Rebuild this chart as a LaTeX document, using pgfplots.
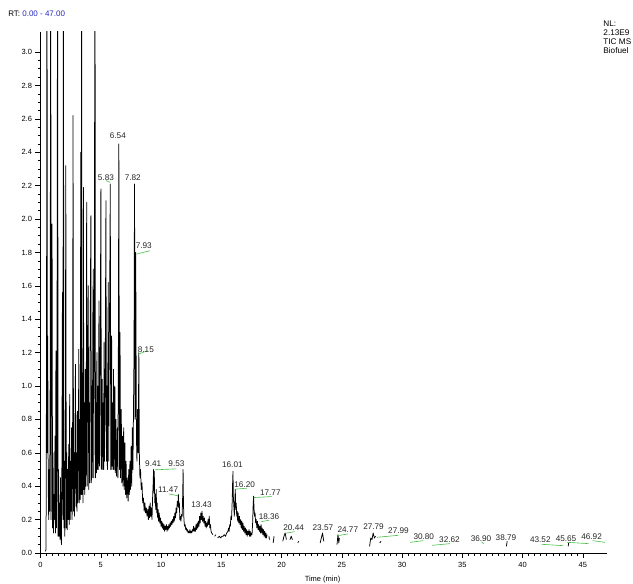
\documentclass[border=0pt]{standalone}
\usepackage{fontspec}
\setmainfont{Liberation Sans}
\usepackage{pgfplots}
\pgfplotsset{compat=1.18}
\definecolor{leadclr}{RGB}{70,190,70}
\definecolor{rtblue}{RGB}{40,40,190}

\begin{document}
\begin{tikzpicture}
\begin{axis}[
  scale only axis,
  width=566.5pt, height=521pt,
  xmin=0, xmax=47, ymin=0, ymax=3.12,
  enlargelimits=false,
  axis lines=left,
  axis line style={-, line width=0.6pt},
  tick align=outside,
  major tick length=5pt, minor tick length=2.6pt,
  tick style={line width=0.5pt, black},
  xtick={0,5,...,45}, minor x tick num=9,
  ytick={0,0.2,...,3.01}, minor y tick num=3,
  yticklabel style={/pgf/number format/.cd, fixed, fixed zerofill, precision=1},
  /pgf/number format/assume math mode=true,
  ticklabel style={font=\fontsize{7.5}{9}\selectfont},
  xticklabel style={yshift=-1pt},
  unbounded coords=jump,
  clip mode=individual,
]
% ----- TIC trace -----
\addplot[black, line width=0.75pt, line join=round] coordinates {
(0.40,0.01) (0.46,0.02) (0.50,1.2) (0.54,4.0) (0.57,0.6) (0.60,1.3) (0.64,0.4)
(0.68,0.2) (0.72,0.5) (0.76,0.25) (0.80,1.0) (0.85,4.0) (0.88,0.2) (0.92,1.4)
(0.96,1.97) (1.00,0.15) (1.04,0.6) (1.08,0.12) (1.12,0.35) (1.16,0.2) (1.20,0.7)
(1.24,0.12) (1.28,1.21) (1.32,0.15) (1.36,0.5) (1.42,4.0) (1.46,0.1) (1.50,0.5)
(1.54,0.1) (1.58,0.3) (1.62,0.08) (1.66,0.45) (1.70,0.1) (1.74,0.05) (1.78,0.6)
(1.82,1.56) (1.86,0.2) (1.90,4.0) (1.94,0.15) (1.98,0.55) (2.02,0.1) (2.06,0.7)
(2.10,2.32) (2.14,0.15) (2.18,0.6) (2.22,0.14) (2.26,0.5) (2.30,0.2) (2.34,0.65)
(2.38,0.17) (2.42,0.95) (2.46,0.2) (2.50,0.55) (2.54,0.25) (2.58,0.75) (2.62,0.2)
(2.66,0.5) (2.70,2.62) (2.74,0.25) (2.78,0.6) (2.82,0.22) (2.86,0.7) (2.90,1.13)
(2.94,0.28) (2.98,0.6) (3.02,0.25) (3.06,0.85) (3.10,0.3) (3.14,0.65) (3.18,1.22)
(3.22,0.3) (3.26,0.8) (3.30,0.32) (3.34,2.40) (3.38,0.35) (3.41,4.0) (3.44,0.35)
(3.48,1.0) (3.52,0.3) (3.56,2.19) (3.60,0.38) (3.64,0.9) (3.68,0.35) (3.72,1.1)
(3.76,0.4) (3.80,0.9) (3.83,2.1) (3.87,0.4) (3.91,1.2) (3.96,1.6) (4.00,0.38)
(4.04,0.9) (4.08,0.42) (4.12,1.3) (4.18,2.02) (4.22,0.42) (4.26,1.0) (4.30,0.45)
(4.34,1.4) (4.38,1.7) (4.42,0.45) (4.46,1.1) (4.52,4.0) (4.56,0.45) (4.60,0.9)
(4.64,0.48) (4.68,1.2) (4.72,0.5) (4.76,1.0) (4.80,0.5) (4.85,1.51) (4.90,0.52)
(4.95,1.1) (5.01,2.18) (5.05,0.5) (5.09,0.8) (5.12,1.04) (5.16,0.5) (5.20,0.9)
(5.24,0.5) (5.27,1.26) (5.31,0.55) (5.36,0.9) (5.43,2.11) (5.47,0.55) (5.51,1.0)
(5.55,0.5) (5.62,1.62) (5.66,0.55) (5.70,1.2) (5.74,1.54) (5.79,2.21) (5.83,0.5)
(5.86,0.5) (5.90,1.3) (5.94,0.52) (5.98,0.9) (6.02,0.5) (6.06,1.1) (6.10,0.5)
(6.17,1.0) (6.21,0.48) (6.26,0.8) (6.30,0.46) (6.38,0.75) (6.42,0.45) (6.46,1.2)
(6.50,2.45) (6.55,0.5) (6.60,1.32) (6.64,0.45) (6.70,0.86) (6.75,0.42) (6.80,0.7)
(6.85,0.4) (6.90,0.75) (6.95,0.38) (7.00,0.66) (7.05,0.35) (7.10,0.55) (7.15,0.33)
(7.20,0.45) (7.27,0.31) (7.32,0.5) (7.37,0.35) (7.42,0.55) (7.47,0.38) (7.52,0.64)
(7.57,0.4) (7.62,0.75) (7.67,0.5) (7.72,0.9) (7.76,1.2) (7.80,2.21) (7.85,0.8)
(7.90,1.80) (7.96,0.7) (8.00,0.55) (8.05,0.86) (8.10,0.6) (8.16,1.20) (8.20,0.6)
(8.25,0.45) (8.30,0.5) (8.36,0.38) (8.42,0.42) (8.48,0.3) (8.54,0.33) (8.60,0.25)
(8.66,0.3) (8.72,0.24) (8.78,0.27) (8.84,0.22) (8.90,0.26) (8.95,0.2) (9.00,0.28)
(9.05,0.21) (9.10,0.3) (9.15,0.22) (9.20,0.27) (9.25,0.2) (9.30,0.33) (9.35,0.42)
(9.38,0.5) (9.41,0.36) (9.44,0.49) (9.48,0.3) (9.52,0.35) (9.56,0.26) (9.60,0.38)
(9.64,0.24) (9.68,0.3) (9.72,0.21) (9.76,0.26) (9.80,0.19) (9.85,0.24) (9.90,0.18)
(9.95,0.21) (10.00,0.16) (10.05,0.19) (10.10,0.15) (10.15,0.18) (10.20,0.14)
(10.25,0.17) (10.30,0.13) (10.35,0.16) (10.40,0.14) (10.45,0.17) (10.50,0.13)
(10.55,0.16) (10.60,0.14) (10.65,0.17) (10.70,0.15) (10.75,0.18) (10.80,0.16)
(10.85,0.19) (10.90,0.17) (10.95,0.2) (11.00,0.18) (11.05,0.22) (11.10,0.19)
(11.15,0.24) (11.20,0.21) (11.25,0.27) (11.30,0.24) (11.35,0.31) (11.40,0.28)
(11.44,0.35) (11.48,0.27) (11.52,0.3) (11.56,0.2) (11.60,0.22) (11.65,0.19)
(11.70,0.23) (11.75,0.22) (11.80,0.35) (11.83,0.5) (11.86,0.3) (11.90,0.2)
(11.95,0.16) (12.00,0.17) (12.05,0.14) (12.10,0.15) (12.15,0.13) (12.20,0.14)
(12.25,0.12) (12.30,0.13) (12.35,0.12) (12.40,0.14) (12.45,0.12) (12.50,0.13)
(12.55,0.12) (12.60,0.14) (12.65,0.13) (12.70,0.16) (12.75,0.13) (12.80,0.15)
(12.85,0.13) (12.90,0.17) (12.95,0.14) (13.00,0.18) (13.05,0.15) (13.10,0.19)
(13.15,0.16) (13.20,0.22) (13.25,0.18) (13.30,0.24) (13.35,0.2) (13.40,0.25)
(13.45,0.19) (13.50,0.22) (13.55,0.18) (13.60,0.21) (13.65,0.16) (13.70,0.19)
(13.75,0.15) (13.80,0.18) (13.85,0.16) (13.90,0.2) (13.95,0.17) (14.00,0.22)
(14.05,0.15) (14.10,0.17) (14.15,0.13) (14.20,0.12) (14.30,0.11) (14.35,nan)
(14.45,0.1) (14.55,0.11) (14.60,nan) (14.70,0.09) (14.85,0.1) (14.95,0.09)
(15.05,0.1) (15.15,0.1) (15.25,0.11) (15.35,0.1) (15.45,0.12) (15.55,0.13)
(15.60,0.15) (15.65,0.13) (15.70,0.17) (15.75,0.16) (15.80,0.22) (15.85,0.2)
(15.90,0.3) (15.94,0.42) (15.97,0.49) (16.00,0.34) (16.04,0.28) (16.08,0.22)
(16.12,0.3) (16.16,0.38) (16.20,0.26) (16.24,0.3) (16.28,0.22) (16.32,0.25)
(16.36,0.19) (16.40,0.24) (16.45,0.18) (16.50,0.22) (16.55,0.17) (16.60,0.2)
(16.65,0.15) (16.70,0.19) (16.75,0.14) (16.80,0.18) (16.85,0.13) (16.90,0.16)
(16.95,0.12) (17.00,0.15) (17.05,0.11) (17.10,0.14) (17.15,0.1) (17.20,0.13)
(17.25,0.11) (17.30,0.14) (17.35,0.1) (17.40,0.13) (17.45,0.1) (17.50,0.12)
(17.55,0.11) (17.60,0.18) (17.64,0.28) (17.68,0.34) (17.72,0.26) (17.76,0.22)
(17.80,0.24) (17.85,0.18) (17.90,0.2) (17.95,0.15) (18.00,0.19) (18.05,0.14)
(18.10,0.17) (18.15,0.13) (18.20,0.16) (18.25,0.12) (18.30,0.17) (18.35,0.12)
(18.40,0.15) (18.45,0.11) (18.50,0.14) (18.55,0.1) (18.60,0.13) (18.65,0.09)
(18.70,0.12) (18.75,0.09) (18.80,0.11) (18.85,nan) (18.95,0.1) (19.00,0.08)
(19.05,nan) (19.30,0.06) (19.38,0.1) (19.45,nan)
(20.10,0.07) (20.20,0.1) (20.30,0.12) (20.40,0.08) (20.45,nan)
(20.70,0.08) (20.80,0.1) (20.90,0.08) (20.95,nan)
(21.35,0.06) (21.42,0.07) (21.50,nan)
(22.90,0.06) (22.95,nan) (23.20,0.06) (23.30,0.09) (23.40,0.12) (23.50,0.07)
(23.55,nan) (23.70,0.06) (23.75,nan)
(24.60,0.05) (24.68,0.11) (24.75,0.06) (24.80,0.09) (24.85,nan)
(25.55,0.06) (25.60,nan) (25.90,0.06) (25.95,nan) (26.25,0.05) (26.30,nan)
(27.30,0.04) (27.40,0.09) (27.50,0.08) (27.60,0.12) (27.70,0.09) (27.80,0.1)
(27.85,nan) (28.15,0.06) (28.25,0.07) (28.30,nan) (28.50,0.06) (28.55,nan)
(28.95,0.04) (29.00,nan)
(38.65,0.04) (38.72,0.07) (38.75,nan)
(43.78,0.04) (43.82,0.06) (43.85,nan)
};
% ----- leader lines -----
\begin{scope}[leadclr, line width=0.6pt]
\draw (axis cs:5.43,2.23) -- (axis cs:5.76,2.22);
\draw (axis cs:7.98,1.79) -- (axis cs:9.07,1.81);
\draw (axis cs:8.10,1.19) -- (axis cs:8.82,1.21);
\draw (axis cs:9.49,0.498) -- (axis cs:11.28,0.504);
\draw (axis cs:10.65,0.354) -- (axis cs:11.43,0.342);
\draw (axis cs:16.11,0.382) -- (axis cs:17.13,0.388);
\draw (axis cs:17.69,0.332) -- (axis cs:19.20,0.338);
\draw (axis cs:18.33,0.188) -- (axis cs:18.96,0.196);
\draw (axis cs:20.34,0.118) -- (axis cs:21.09,0.128);
\draw (axis cs:24.67,0.104) -- (axis cs:25.50,0.114);
\draw (axis cs:27.90,0.094) -- (axis cs:29.70,0.106);
\draw (axis cs:30.67,0.064) -- (axis cs:31.77,0.074);
\draw (axis cs:32.49,0.046) -- (axis cs:33.98,0.056);
\draw (axis cs:36.60,0.068) -- (axis cs:36.77,0.054);
\draw (axis cs:41.57,0.052) -- (axis cs:43.37,0.044);
\draw (axis cs:43.68,0.064) -- (axis cs:45.47,0.056);
\draw (axis cs:45.80,0.074) -- (axis cs:46.83,0.064);
\end{scope}
% ----- peak labels -----
\begin{scope}[every node/.style={font=\fontsize{8.2}{9}\selectfont, text=black!85, inner sep=0pt}]
\node at (axis cs:6.42,2.50) {6.54};
\node at (axis cs:5.43,2.25) {5.83};
\node at (axis cs:7.66,2.25) {7.82};
\node at (axis cs:8.57,1.84) {7.93};
\node at (axis cs:8.74,1.22) {8.15};
\node at (axis cs:9.35,0.534) {9.41};
\node at (axis cs:11.28,0.532) {9.53};
\node at (axis cs:10.59,0.378) {11.47};
\node at (axis cs:13.36,0.292) {13.43};
\node at (axis cs:15.92,0.526) {16.01};
\node at (axis cs:16.94,0.412) {16.20};
\node at (axis cs:19.07,0.364) {17.77};
\node at (axis cs:18.96,0.218) {18.36};
\node at (axis cs:21.00,0.152) {20.44};
\node at (axis cs:23.43,0.152) {23.57};
\node at (axis cs:25.50,0.142) {24.77};
\node at (axis cs:27.63,0.158) {27.79};
\node at (axis cs:29.70,0.136) {27.99};
\node at (axis cs:31.80,0.098) {30.80};
\node at (axis cs:33.93,0.082) {32.62};
\node at (axis cs:36.55,0.086) {36.90};
\node at (axis cs:38.62,0.090) {38.79};
\node at (axis cs:41.47,0.082) {43.52};
\node at (axis cs:43.60,0.084) {45.65};
\node at (axis cs:45.72,0.096) {46.92};
\end{scope}
% ----- header texts -----
\node[anchor=west, font=\fontsize{8}{9}\selectfont, inner sep=0pt]
  at (axis cs:-2.69,3.227) {RT: \textcolor{rtblue}{0.00 - 47.00}};
\node[anchor=north west, align=left, font=\fontsize{8.2}{9.2}\selectfont, inner sep=0pt]
  at (axis cs:46.69,3.19) {NL:\\2.13E9\\TIC MS\\Biofuel};
\node[font=\fontsize{7.5}{9}\selectfont, inner sep=0pt]
  at (axis cs:23.4,-0.162) {Time (min)};
\coordinate (O) at (rel axis cs:0,0);
\end{axis}
\pgfresetboundingbox
\path[use as bounding box] ([shift={(-40.5pt,-31pt)}]O) rectangle ([shift={(592.5pt,553pt)}]O);
\end{tikzpicture}
\end{document}
